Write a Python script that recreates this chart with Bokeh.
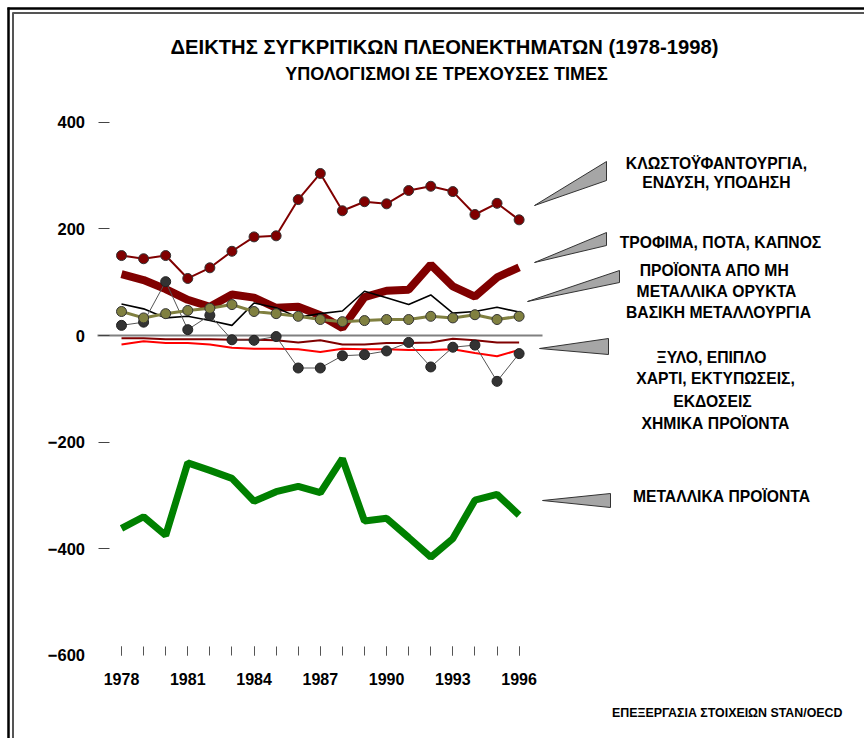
from bokeh.plotting import figure
from bokeh.models import LinearAxis, FixedTicker, Range1d
from bokeh.core.properties import value
from bokeh.embed import file_html
from bokeh.resources import INLINE

# ---------------- data ----------------
years = list(range(1978, 1997))
textiles = [150, 144, 150, 107, 127, 158, 185, 187, 255, 304, 234, 251, 247, 272, 280, 270, 227, 248, 217]
food = [115, 104, 87, 67, 54, 77, 71, 52, 54, 38, 14, 72, 84, 86, 133, 92, 73, 109, 128]
non_metallic = [59, 50, 33, 36, 28, 19, 61, 52, 34, 41, 46, 83, 71, 58, 76, 42, 45, 53, 44]
basic_metal = [45, 33, 41, 47, 51, 58, 45, 41, 36, 30, 26, 28, 30, 30, 36, 33, 39, 30, 36]
chemicals = [19, 25, 101, 11, 38, -8, -9, -2, -61, -61, -38, -36, -29, -13, -59, -22, -18, -86, -34]
wood = [-5, -5, -7, -7, -7, -8, -8, -9, -13, -9, -17, -17, -14, -14, -13, -6, -9, -13, -13]
paper = [-17, -11, -14, -14, -17, -23, -25, -25, -26, -31, -25, -26, -26, -27, -27, -26, -33, -39, -27]
metallic = [-362, -340, -375, -239, -253, -268, -311, -293, -283, -295, -231, -348, -343, -379, -416, -381, -309, -298, -337]

x_label_years = [1978, 1981, 1984, 1987, 1990, 1993, 1996]
y_ticks = [-400, -200, 0, 200, 400]
y_bottom_tick = [-600]

title = "ΔΕΙΚΤΗΣ ΣΥΓΚΡΙΤΙΚΩΝ ΠΛΕΟΝΕΚΤΗΜΑΤΩΝ (1978-1998)"
subtitle = "ΥΠΟΛΟΓΙΣΜΟΙ ΣΕ ΤΡΕΧΟΥΣΕΣ ΤΙΜΕΣ"
source = "ΕΠΕΞΕΡΓΑΣΙΑ ΣΤΟΙΧΕΙΩΝ STAN/OECD"

# ---------------- layout calibration (canvas pixels) ----------------
W, H = 864, 738
PX_PER_YEAR = 22.09
PX_PER_UNIT = 0.533
X_1978 = 121
Y_ZERO = 335
x_start = 1978 - X_1978 / PX_PER_YEAR
x_end = x_start + W / PX_PER_YEAR
y_end = Y_ZERO / PX_PER_UNIT
y_start = y_end - H / PX_PER_UNIT


def dx(px):
    return 1978 + (px - X_1978) / PX_PER_YEAR


def dy(py):
    return (Y_ZERO - py) / PX_PER_UNIT


FONT = value("Liberation Sans")

p = figure(width=W, height=H, x_range=Range1d(x_start, x_end), y_range=Range1d(y_start, y_end),
           output_backend="svg", toolbar_location=None, x_axis_type=None, y_axis_type=None,
           min_border=0)
p.min_border_left = p.min_border_right = p.min_border_top = p.min_border_bottom = 0
p.outline_line_color = None
p.background_fill_color = "white"
p.border_fill_color = "white"
for g in p.grid:
    g.visible = False

# frame lines (top & left)
p.line([dx(7), x_end], [dy(8), dy(8)], line_color="black", line_width=2.5)
p.line([dx(12), x_end], [dy(12.5), dy(12.5)], line_color="#555555", line_width=2)
p.line([dx(8), dx(8)], [y_start, dy(7)], line_color="black", line_width=2.5)
p.line([dx(12.5), dx(12.5)], [y_start, dy(12)], line_color="#555555", line_width=2)


def style_axis(ax, size):
    ax.axis_line_color = None
    ax.major_label_text_font = "Liberation Sans"
    ax.major_label_text_font_style = "bold"
    ax.major_label_text_font_size = size
    ax.major_label_text_color = "black"


yaxis = LinearAxis(ticker=FixedTicker(ticks=y_ticks, minor_ticks=[]), fixed_location=dx(108.5))
style_axis(yaxis, "16.5px")
yaxis.major_tick_out = 11
yaxis.major_tick_in = 0
yaxis.major_tick_line_color = "#444444"
yaxis.major_label_standoff = 13
p.add_layout(yaxis, "left")

yaxis2 = LinearAxis(ticker=FixedTicker(ticks=y_bottom_tick, minor_ticks=[]), fixed_location=dx(108.5))
style_axis(yaxis2, "16.5px")
yaxis2.major_tick_out = 11
yaxis2.major_tick_in = 0
yaxis2.major_tick_line_color = None
yaxis2.major_label_standoff = 13
p.add_layout(yaxis2, "left")

xaxis = LinearAxis(ticker=FixedTicker(ticks=x_label_years, minor_ticks=years), fixed_location=-600)
style_axis(xaxis, "16px")
xaxis.major_tick_in = 9
xaxis.major_tick_out = 0
xaxis.minor_tick_in = 9
xaxis.minor_tick_out = 0
xaxis.major_tick_line_color = "#555555"
xaxis.minor_tick_line_color = "#555555"
xaxis.major_label_standoff = 18
p.add_layout(xaxis, "below")

# zero line
p.line([dx(97), dx(542)], [0, 0], line_color="#808080", line_width=2)

# series
p.line(years, metallic, line_color="#008000", line_width=7)
p.line(years, paper, line_color="#ff0000", line_width=2)
p.line(years, wood, line_color="#800000", line_width=2)
p.line(years, food, line_color="#800000", line_width=8)
p.line(years, non_metallic, line_color="black", line_width=1.6)
p.line(years, chemicals, line_color="#555555", line_width=1)
p.scatter(years, chemicals, size=10, fill_color="#333333", line_color="#222222", line_width=1)
p.line(years, basic_metal, line_color="#808040", line_width=3)
p.scatter(years, basic_metal, size=10, fill_color="#808040", line_color="#333333", line_width=1)
p.line(years, textiles, line_color="#800000", line_width=2)
p.scatter(years, textiles, size=10, fill_color="#800000", line_color="#333333", line_width=1)

# pointers
wedges_px = [
    [(534, 205), (606, 161), (606, 180)],
    [(534, 262), (606, 232), (606, 245)],
    [(527, 301), (619, 270), (619, 282)],
    [(539, 348), (608, 338), (608, 354)],
    [(542, 500), (610, 493), (610, 507)],
]
p.patches(xs=[[dx(a) for a, b in w] for w in wedges_px],
          ys=[[dy(b) for a, b in w] for w in wedges_px],
          fill_color="#a6a6a6", line_color="#333333", line_width=1)

# series labels
labels = [
    ("ΚΛΩΣΤΟΫΦΑΝΤΟΥΡΓΙΑ,", 716, 163),
    ("ΕΝΔΥΣΗ, ΥΠΟΔΗΣΗ", 716, 182),
    ("ΤΡΟΦΙΜΑ, ΠΟΤΑ, ΚΑΠΝΟΣ", 720, 242),
    ("ΠΡΟΪΟΝΤΑ ΑΠΟ ΜΗ", 714, 270),
    ("ΜΕΤΑΛΛΙΚΑ ΟΡΥΚΤΑ", 716, 291),
    ("ΒΑΣΙΚΗ ΜΕΤΑΛΛΟΥΡΓΙΑ", 718, 312),
    ("ΞΥΛΟ, ΕΠΙΠΛΟ", 711, 357),
    ("ΧΑΡΤΙ, ΕΚΤΥΠΩΣΕΙΣ,", 715, 378),
    ("ΕΚΔΟΣΕΙΣ", 712, 401),
    ("ΧΗΜΙΚΑ ΠΡΟΪΟΝΤΑ", 715, 423),
    ("ΜΕΤΑΛΛΙΚΑ ΠΡΟΪΟΝΤΑ", 721, 496),
]
p.text(x=[dx(a) for _, a, b in labels], y=[dy(b) for _, a, b in labels], text=[t for t, a, b in labels],
       text_font=FONT, text_font_style="bold", text_font_size="15.7px", text_color="black",
       text_align="center", text_baseline="middle")

# titles
p.text(x=[dx(444)], y=[dy(46)], text=[title], text_font=FONT, text_font_style="bold",
       text_font_size="20.2px", text_align="center", text_baseline="middle", text_color="black")
p.text(x=[dx(446)], y=[dy(73)], text=[subtitle], text_font=FONT, text_font_style="bold",
       text_font_size="18px", text_align="center", text_baseline="middle", text_color="black")
p.text(x=[dx(842)], y=[dy(712)], text=[source], text_font=FONT, text_font_style="bold",
       text_font_size="12.4px", text_align="right", text_baseline="middle", text_color="black")

open("out.html", "w").write(file_html(p, INLINE))
